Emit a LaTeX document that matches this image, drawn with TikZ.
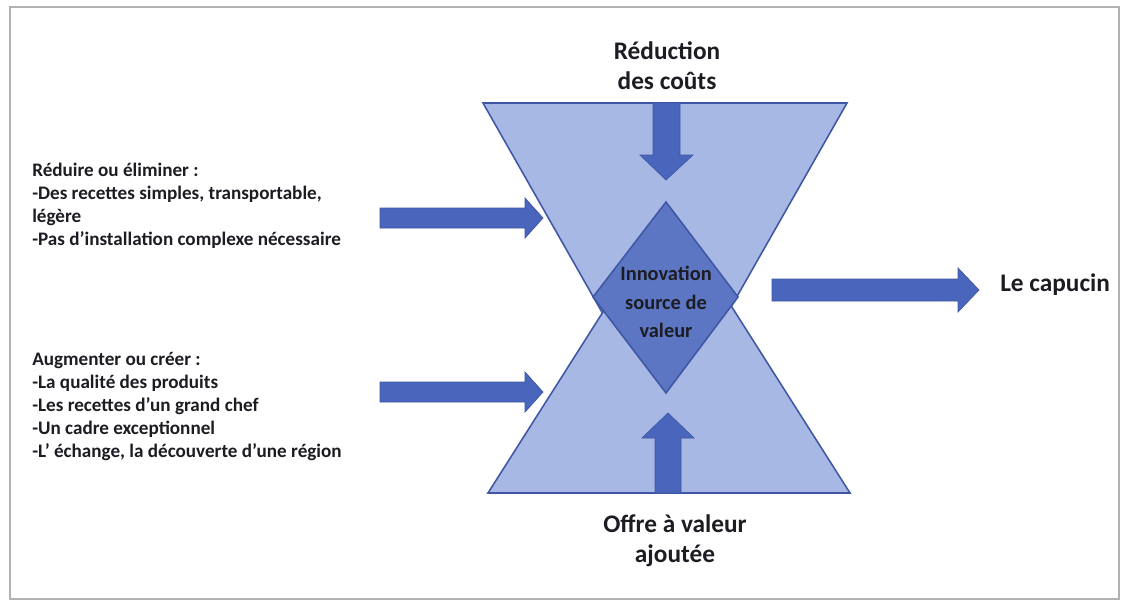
\documentclass[tikz,border=0pt]{standalone}
\usepackage{fontspec}
\setmainfont{Carlito}
\definecolor{lightfill}{RGB}{168,184,228}
\definecolor{edgeblue}{RGB}{62,86,164}
\definecolor{arrowblue}{RGB}{74,102,188}
\definecolor{diamondblue}{RGB}{92,118,196}
\definecolor{textdark}{RGB}{28,28,34}
\tikzset{hourglass/.style={fill=lightfill, draw=edgeblue, line width=1.1pt}}
\tikzset{blockarrow/.style={fill=arrowblue, draw=edgeblue, line width=0.5pt}}
\tikzset{bigtext/.style={font=\fontsize{18}{21.3}\selectfont\bfseries, align=center, text=textdark, inner sep=0pt}}
\tikzset{listtext/.style={font=\fontsize{13.6}{16.4}\selectfont\bfseries, align=left, text=textdark, inner sep=0pt, anchor=north west}}

\begin{document}
\begin{tikzpicture}[x=0.25mm, y=-0.25mm]
    \useasboundingbox (0,0) rectangle (1126,613);
    \draw[gray!60, line width=1pt] (10,7) rectangle (1119,599); %frame
    % the two triangles, then the diamond on top
    \draw[hourglass] (483,103)--(847,103)--(665,423)--cycle;
    \draw[hourglass] (488,493)--(850,493)--(669,208)--cycle;
    \draw[fill=diamondblue, draw=edgeblue, line width=1.1pt]
      (666,202)--(738,297)--(666,393)--(593,297)--cycle;
    \node[font=\fontsize{14.5}{20.5}\selectfont\bfseries, align=center, text=textdark, inner sep=0pt]
      (innov) at (666,302) {Innovation\\source de\\valeur};
    % block arrows
    \draw[blockarrow] (653,103)--(680,103)--(680,155)--(693,155)--(666,180)
      --(640,155)--(653,155)--cycle;
    \draw[blockarrow] (655,493)--(681,493)--(681,438)--(694,438)--(668,413)
      --(642,438)--(655,438)--cycle;
    \draw[blockarrow] (380,208)--(525,208)--(525,198)--(543,218)--(525,238)
      --(525,228)--(380,228)--cycle;
    \draw[blockarrow] (380,382)--(525,382)--(525,372)--(543,392)--(525,412)
      --(525,402)--(380,402)--cycle;
    \draw[blockarrow] (772,279)--(958,279)--(958,268)--(979,290)--(958,312)
      --(958,301)--(772,301)--cycle;
    % texts
    \node[bigtext, anchor=north] (cost) at (667,41) {Réduction\\des coûts};
    \node[bigtext, anchor=north] (offer) at (675,514) {Offre à valeur\\ajoutée};
    \node[bigtext, anchor=west] (capucin) at (1000,285) {Le capucin};
    \node[listtext] (reduce) at (32,163) {Réduire ou éliminer :\\-Des recettes simples, transportable,\\légère\\-Pas d'installation complexe nécessaire};
    \node[listtext] (raise) at (32,352) {Augmenter ou créer :\\-La qualité des produits\\-Les recettes d'un grand chef\\-Un cadre exceptionnel\\-L' échange, la découverte d'une région};
\end{tikzpicture}
\end{document}
